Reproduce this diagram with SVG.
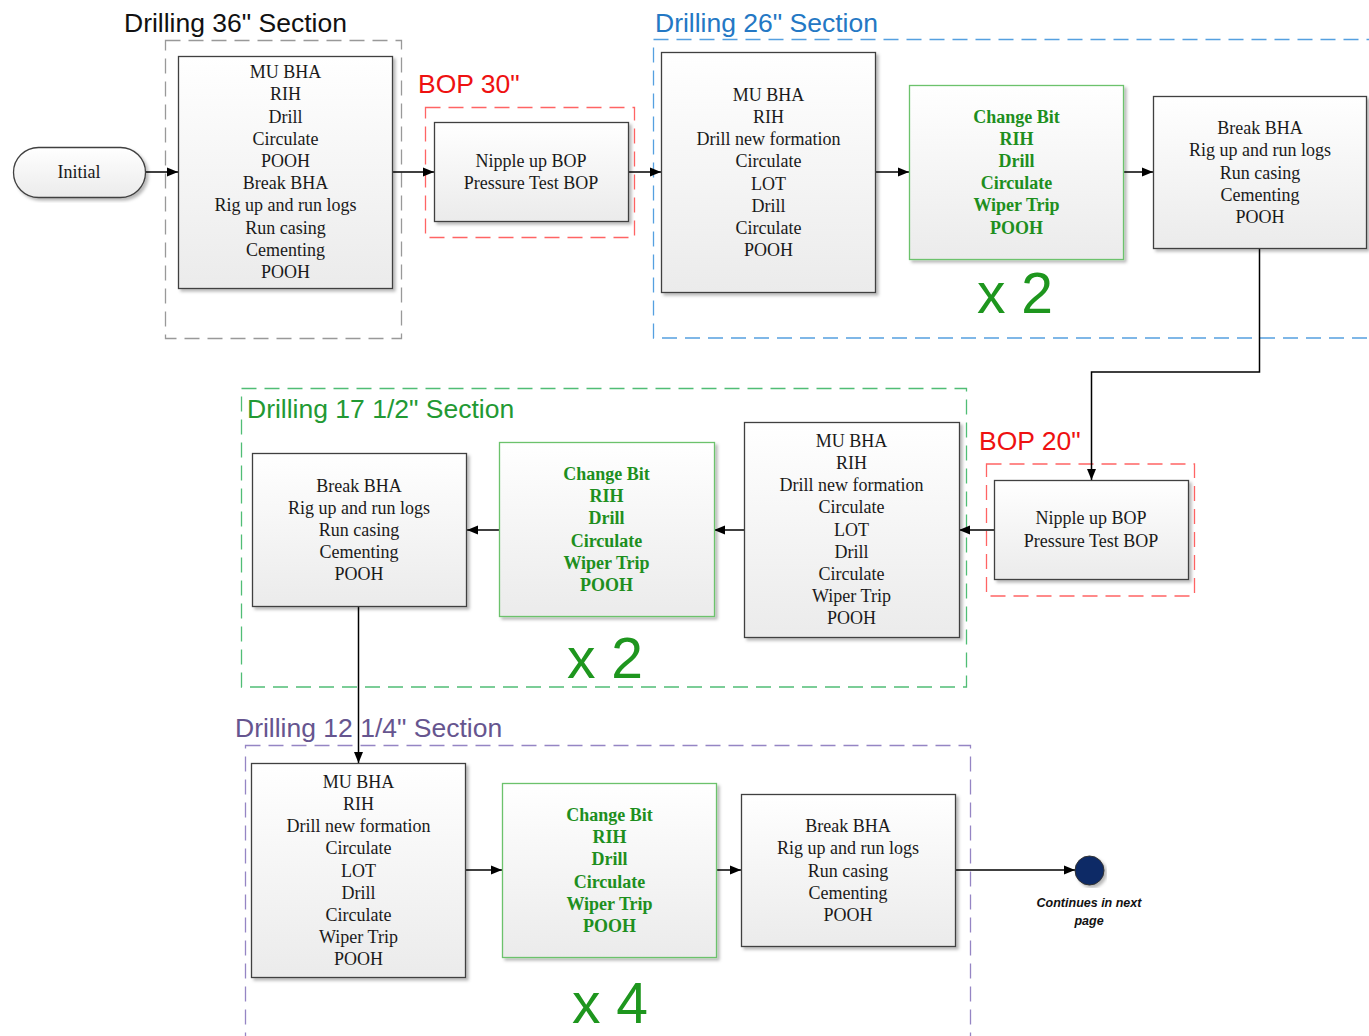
<svg xmlns="http://www.w3.org/2000/svg" width="1369" height="1036" viewBox="0 0 1369 1036">
<defs>
<linearGradient id="gfill" x1="0" y1="0" x2="0" y2="1">
<stop offset="0" stop-color="#ffffff"/>
<stop offset="1" stop-color="#ebebeb"/>
</linearGradient>
<filter id="shadow" x="-10%" y="-10%" width="120%" height="120%">
<feDropShadow dx="2.5" dy="2.5" stdDeviation="1.5" flood-color="#000" flood-opacity="0.28"/>
</filter>
<marker id="arrow" markerWidth="11" markerHeight="10" refX="11" refY="5" orient="auto" markerUnits="userSpaceOnUse">
<path d="M0,0.5 L11,5 L0,9.5 z" fill="#000"/>
</marker>
</defs>
<style>
.box{fill:url(#gfill);stroke:#404040;stroke-width:1.3;filter:url(#shadow)}
.gbox{fill:url(#gfill);stroke:#6cc26c;stroke-width:1.3;filter:url(#shadow)}
.t{font-family:"Liberation Serif","Times New Roman",serif;font-size:18px;fill:#1a1a1a;text-anchor:middle}
.gt{font-family:"Liberation Serif","Times New Roman",serif;font-size:18px;font-weight:bold;fill:#1e8f1e;text-anchor:middle}
.title{font-family:"Liberation Sans",Arial,sans-serif;font-size:26.5px}
.mult{font-family:"Liberation Sans",Arial,sans-serif;font-size:57px;fill:#1e961e}
.sec{fill:none;stroke-width:1.3;stroke-dasharray:15 8}
.conn{fill:none;stroke:#000;stroke-width:1.5}
</style>
<rect width="1369" height="1036" fill="#ffffff"/>

<g id="sections">
<g id="sec36">
<rect class="sec" x="165.5" y="40.5" width="236" height="298" stroke="#999999"/>
<text class="title" x="124" y="32" fill="#111">Drilling 36" Section</text>
</g>
<g id="bop30">
<rect class="sec" x="425.5" y="107.5" width="209" height="130" stroke="#ff6464"/>
<text class="title" x="418" y="93" fill="#ee1111">BOP 30"</text>
</g>
<g id="sec26">
<rect class="sec" x="653.5" y="39.5" width="725" height="298.5" stroke="#55a0e0"/>
<text class="title" x="655" y="32" fill="#2478c4">Drilling 26" Section</text>
</g>
<g id="bop20">
<rect class="sec" x="986.5" y="464" width="208" height="132" stroke="#ff6464"/>
<text class="title" x="979" y="450" fill="#ee1111">BOP 20"</text>
</g>
<g id="sec17">
<rect class="sec" x="241.5" y="388.5" width="725" height="298.5" stroke="#50bd75"/>
<text class="title" x="247" y="418" fill="#229933">Drilling 17 1/2" Section</text>
</g>
<g id="sec12">
<rect class="sec" x="245.5" y="745.5" width="725" height="300" stroke="#9585c4"/>
<text class="title" x="235" y="737" fill="#66558f">Drilling 12 1/4" Section</text>
</g>
</g>

<g id="connectors">
<path class="conn" d="M145,172 H178" marker-end="url(#arrow)"/>
<path class="conn" d="M393,172 H434" marker-end="url(#arrow)"/>
<path class="conn" d="M628,172 H661" marker-end="url(#arrow)"/>
<path class="conn" d="M876,172 H909" marker-end="url(#arrow)"/>
<path class="conn" d="M1124,172 H1153" marker-end="url(#arrow)"/>
<path class="conn" d="M1259.5,249 V372 H1091.5 V480" marker-end="url(#arrow)"/>
<path class="conn" d="M994,530 H959" marker-end="url(#arrow)"/>
<path class="conn" d="M744,530 H714" marker-end="url(#arrow)"/>
<path class="conn" d="M499,530 H467" marker-end="url(#arrow)"/>
<path class="conn" d="M358.5,607 V763" marker-end="url(#arrow)"/>
<path class="conn" d="M466,870 H502" marker-end="url(#arrow)"/>
<path class="conn" d="M717,870 H741" marker-end="url(#arrow)"/>
<path class="conn" d="M955,870 H1075" marker-end="url(#arrow)"/>
</g>

<g id="initial">
<rect class="box" x="13.5" y="147.5" width="132" height="50" rx="25" ry="25"/>
<text class="t" x="79" y="178">Initial</text>
</g>

<g id="box36">
<rect class="box" x="178.5" y="56.5" width="214" height="232"/>
<text class="t" y="78.1"><tspan x="285.5">MU BHA</tspan><tspan x="285.5" dy="22.2">RIH</tspan><tspan x="285.5" dy="22.2">Drill</tspan><tspan x="285.5" dy="22.2">Circulate</tspan><tspan x="285.5" dy="22.2">POOH</tspan><tspan x="285.5" dy="22.2">Break BHA</tspan><tspan x="285.5" dy="22.2">Rig up and run logs</tspan><tspan x="285.5" dy="22.2">Run casing</tspan><tspan x="285.5" dy="22.2">Cementing</tspan><tspan x="285.5" dy="22.2">POOH</tspan></text>
</g>

<g id="box-bop30">
<rect class="box" x="434.5" y="122.5" width="194" height="99"/>
<text class="t" y="166.9"><tspan x="531">Nipple up BOP</tspan><tspan x="531" dy="22.2">Pressure Test BOP</tspan></text>
</g>

<g id="box26a">
<rect class="box" x="661.5" y="52.5" width="214" height="240"/>
<text class="t" y="100.8"><tspan x="768.5">MU BHA</tspan><tspan x="768.5" dy="22.2">RIH</tspan><tspan x="768.5" dy="22.2">Drill new formation</tspan><tspan x="768.5" dy="22.2">Circulate</tspan><tspan x="768.5" dy="22.2">LOT</tspan><tspan x="768.5" dy="22.2">Drill</tspan><tspan x="768.5" dy="22.2">Circulate</tspan><tspan x="768.5" dy="22.2">POOH</tspan></text>
</g>

<g id="box26b">
<rect class="gbox" x="909.5" y="85.5" width="214" height="174"/>
<text class="gt" y="122.5"><tspan x="1016.5">Change Bit</tspan><tspan x="1016.5" dy="22.2">RIH</tspan><tspan x="1016.5" dy="22.2">Drill</tspan><tspan x="1016.5" dy="22.2">Circulate</tspan><tspan x="1016.5" dy="22.2">Wiper Trip</tspan><tspan x="1016.5" dy="22.2">POOH</tspan></text>
<text class="mult" x="977" y="313">x 2</text>
</g>

<g id="box26c">
<rect class="box" x="1153.5" y="96.5" width="213" height="152"/>
<text class="t" y="134.1"><tspan x="1260">Break BHA</tspan><tspan x="1260" dy="22.2">Rig up and run logs</tspan><tspan x="1260" dy="22.2">Run casing</tspan><tspan x="1260" dy="22.2">Cementing</tspan><tspan x="1260" dy="22.2">POOH</tspan></text>
</g>

<g id="box-bop20">
<rect class="box" x="994.5" y="480.5" width="194" height="99"/>
<text class="t" y="524.4"><tspan x="1091">Nipple up BOP</tspan><tspan x="1091" dy="22.2">Pressure Test BOP</tspan></text>
</g>

<g id="box17a">
<rect class="box" x="744.5" y="422.5" width="215" height="215"/>
<text class="t" y="446.7"><tspan x="851.5">MU BHA</tspan><tspan x="851.5" dy="22.2">RIH</tspan><tspan x="851.5" dy="22.2">Drill new formation</tspan><tspan x="851.5" dy="22.2">Circulate</tspan><tspan x="851.5" dy="22.2">LOT</tspan><tspan x="851.5" dy="22.2">Drill</tspan><tspan x="851.5" dy="22.2">Circulate</tspan><tspan x="851.5" dy="22.2">Wiper Trip</tspan><tspan x="851.5" dy="22.2">POOH</tspan></text>
</g>

<g id="box17b">
<rect class="gbox" x="499.5" y="442.5" width="215" height="174"/>
<text class="gt" y="480"><tspan x="606.5">Change Bit</tspan><tspan x="606.5" dy="22.2">RIH</tspan><tspan x="606.5" dy="22.2">Drill</tspan><tspan x="606.5" dy="22.2">Circulate</tspan><tspan x="606.5" dy="22.2">Wiper Trip</tspan><tspan x="606.5" dy="22.2">POOH</tspan></text>
<text class="mult" x="567" y="678">x 2</text>
</g>

<g id="box17c">
<rect class="box" x="252.5" y="453.5" width="214" height="153"/>
<text class="t" y="491.6"><tspan x="359">Break BHA</tspan><tspan x="359" dy="22.2">Rig up and run logs</tspan><tspan x="359" dy="22.2">Run casing</tspan><tspan x="359" dy="22.2">Cementing</tspan><tspan x="359" dy="22.2">POOH</tspan></text>
</g>

<g id="box12a">
<rect class="box" x="251.5" y="763.5" width="214" height="214"/>
<text class="t" y="787.7"><tspan x="358.5">MU BHA</tspan><tspan x="358.5" dy="22.2">RIH</tspan><tspan x="358.5" dy="22.2">Drill new formation</tspan><tspan x="358.5" dy="22.2">Circulate</tspan><tspan x="358.5" dy="22.2">LOT</tspan><tspan x="358.5" dy="22.2">Drill</tspan><tspan x="358.5" dy="22.2">Circulate</tspan><tspan x="358.5" dy="22.2">Wiper Trip</tspan><tspan x="358.5" dy="22.2">POOH</tspan></text>
</g>

<g id="box12b">
<rect class="gbox" x="502.5" y="783.5" width="214" height="174"/>
<text class="gt" y="821"><tspan x="609.5">Change Bit</tspan><tspan x="609.5" dy="22.2">RIH</tspan><tspan x="609.5" dy="22.2">Drill</tspan><tspan x="609.5" dy="22.2">Circulate</tspan><tspan x="609.5" dy="22.2">Wiper Trip</tspan><tspan x="609.5" dy="22.2">POOH</tspan></text>
<text class="mult" x="572" y="1023">x 4</text>
</g>

<g id="box12c">
<rect class="box" x="741.5" y="794.5" width="214" height="152"/>
<text class="t" y="832.1"><tspan x="848">Break BHA</tspan><tspan x="848" dy="22.2">Rig up and run logs</tspan><tspan x="848" dy="22.2">Run casing</tspan><tspan x="848" dy="22.2">Cementing</tspan><tspan x="848" dy="22.2">POOH</tspan></text>
</g>

<g id="end">
<circle cx="1089.5" cy="870.5" r="14.5" fill="#0c2a66" stroke="#333" stroke-width="1" filter="url(#shadow)"/>
<text x="1089" y="907" text-anchor="middle" font-family="'Liberation Sans',Arial,sans-serif" font-size="12.5" font-weight="bold" font-style="italic" fill="#111"><tspan x="1089">Continues in next</tspan><tspan x="1089" dy="17.5">page</tspan></text>
</g>
</svg>
